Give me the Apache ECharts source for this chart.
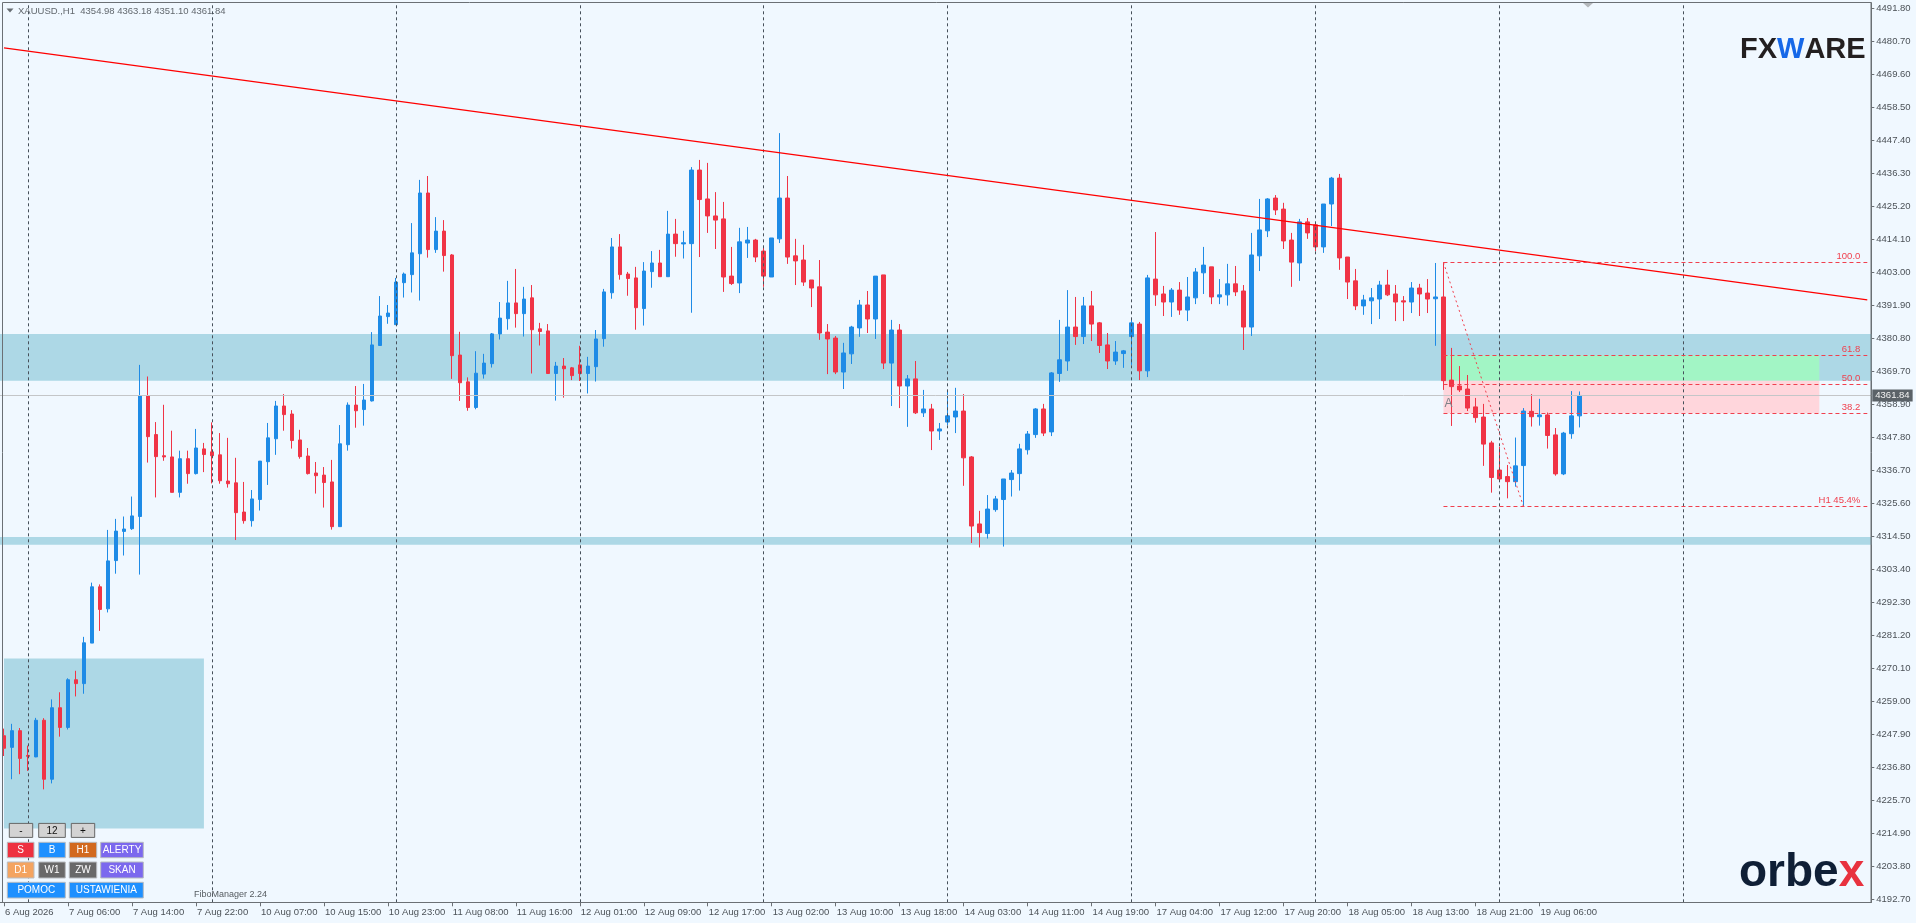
<!DOCTYPE html>
<html><head><meta charset="utf-8">
<style>html,body{margin:0;padding:0;background:#f0f8ff}#c{width:1916px;height:923px}</style>
<script src="https://cdn.jsdelivr.net/npm/echarts@6/dist/echarts.min.js"></script>
</head><body><div id="c"></div>
<script>
// ---------- data ----------
const timeLabels = ['6 Aug 2026','7 Aug 06:00','7 Aug 14:00','7 Aug 22:00','10 Aug 07:00','10 Aug 15:00','10 Aug 23:00','11 Aug 08:00','11 Aug 16:00','12 Aug 01:00','12 Aug 09:00','12 Aug 17:00','13 Aug 02:00','13 Aug 10:00','13 Aug 18:00','14 Aug 03:00','14 Aug 11:00','14 Aug 19:00','17 Aug 04:00','17 Aug 12:00','17 Aug 20:00','18 Aug 05:00','18 Aug 13:00','18 Aug 21:00','19 Aug 06:00'];
const priceLabels = ['4192.70','4203.80','4214.90','4225.70','4236.80','4247.90','4259.00','4270.10','4281.20','4292.30','4303.40','4314.50','4325.60','4336.70','4347.80','4358.90','4369.70','4380.80','4391.90','4403.00','4414.10','4425.20','4436.30','4447.40','4458.50','4469.60','4480.70','4491.80'];

const opens = [4247.6,4243.7,4249.3,4241.0,4240.5,4252.8,4233.0,4257.0,4250.4,4266.4,
4265.1,4278.7,4297.6,4290.2,4306.4,4316.2,4317.1,4321.2,4361.7,4348.7,
4341.6,4341.2,4329.3,4340.6,4335.6,4343.9,4342.9,4341.9,4333.1,4332.5,
4322.7,4319.8,4326.9,4339.6,4347.3,4358.3,4355.6,4346.9,4341.5,4335.8,
4335.1,4332.8,4317.8,4345.3,4358.6,4357.1,4360.0,4378.6,4388.3,4385.6,
4399.7,4402.4,4409.4,4429.8,4410.8,4417.0,4409.0,4375.4,4366.4,4357.8,
4369.0,4372.5,4382.5,4387.6,4392.9,4389.3,4394.6,4384.2,4383.5,4369.2,
4371.7,4371.1,4372.1,4369.2,4371.5,4380.9,4396.3,4411.7,4402.6,4401.3,
4391.0,4403.4,4406.3,4401.7,4416.0,4412.7,4412.8,4437.5,4427.8,4422.1,
4421.1,4401.9,4399.6,4413.0,4414.0,4410.3,4401.6,4414.4,4428.1,4408.7,
4407.3,4400.6,4398.3,4383.1,4381.1,4369.7,4375.8,4384.5,4392.2,4387.5,
4402.3,4372.7,4383.8,4365.0,4367.4,4356.0,4357.3,4349.9,4352.9,4354.6,
4356.6,4341.2,4318.7,4315.5,4323.5,4326.9,4333.6,4335.6,4343.6,4348.7,
4357.3,4349.6,4369.2,4373.4,4384.8,4381.6,4391.9,4386.2,4378.8,4373.4,
4375.9,4381.6,4385.8,4370.1,4400.9,4395.9,4393.2,4397.2,4390.5,4394.6,
4403.0,4405.0,4394.9,4395.6,4399.3,4396.9,4384.8,4408.7,4417.1,4428.1,
4424.4,4414.0,4406.3,4420.1,4419.1,4411.7,4426.1,4434.8,4408.3,4400.3,
4391.9,4393.6,4394.2,4398.9,4395.9,4393.6,4393.2,4397.9,4396.2,4394.3,
4394.9,4367.0,4365.0,4364.0,4358.0,4354.6,4345.9,4336.8,4334.6,4332.9,
4338.3,4356.5,4354.7,4355.3,4348.6,4335.5,4349.0,4354.98];
const closes = [4243.4,4249.3,4240.0,4240.7,4252.8,4233.0,4257.0,4250.4,4266.4,4265.1,
4278.8,4297.6,4290.0,4306.3,4316.3,4317.0,4321.4,4361.7,4348.0,4341.3,
4341.2,4329.3,4340.6,4335.6,4344.2,4342.0,4341.6,4333.2,4332.2,4322.5,
4319.8,4327.1,4339.8,4347.6,4358.3,4355.4,4346.7,4341.3,4335.6,4334.9,
4332.6,4317.8,4345.6,4358.6,4356.7,4360.3,4378.8,4388.5,4389.5,4399.9,
4402.6,4409.7,4429.8,4410.8,4417.0,4408.8,4375.2,4366.1,4357.8,4369.3,
4372.7,4382.5,4387.8,4392.9,4389.3,4394.2,4383.9,4383.3,4369.2,4371.7,
4370.8,4368.5,4369.2,4371.7,4380.8,4396.6,4411.7,4402.4,4401.1,4391.3,
4403.6,4406.3,4401.7,4416.0,4412.8,4413.1,4437.5,4427.6,4422.1,4420.7,
4401.6,4399.4,4413.4,4414.0,4408.3,4401.9,4414.7,4428.1,4408.3,4407.0,
4399.9,4397.9,4382.8,4380.8,4369.7,4376.1,4384.8,4392.2,4387.5,4401.9,
4372.7,4383.8,4365.0,4367.4,4356.0,4357.3,4349.9,4350.6,4355.0,4356.6,
4340.9,4318.0,4315.8,4323.7,4327.1,4333.8,4335.8,4343.9,4348.9,4357.3,
4349.2,4369.4,4373.8,4384.8,4381.6,4391.9,4385.8,4378.6,4373.4,4376.4,
4376.8,4386.2,4370.1,4401.3,4395.6,4393.2,4397.2,4390.5,4394.9,4403.3,
4405.6,4394.9,4395.6,4399.3,4396.6,4384.8,4409.0,4417.4,4427.8,4424.1,
4413.7,4406.6,4420.1,4416.4,4411.7,4426.1,4434.8,4408.0,4399.9,4391.9,
4393.9,4394.6,4398.9,4395.6,4393.2,4393.2,4397.9,4395.9,4394.2,4394.9,
4366.8,4364.8,4363.7,4357.6,4354.4,4345.5,4334.3,4333.8,4332.9,4338.2,
4356.6,4354.7,4355.3,4348.4,4335.5,4349.2,4354.98,4361.84];
const highs = [4250.0,4251.6,4250.2,4244.3,4253.6,4253.5,4259.8,4262.2,4266.9,4269.4,
4280.8,4299.0,4298.4,4316.7,4320.4,4321.2,4327.9,4372.1,4368.2,4352.9,
4358.7,4350.0,4343.3,4343.3,4350.6,4345.9,4352.8,4349.2,4347.6,4340.9,
4332.8,4330.1,4339.8,4352.6,4360.0,4362.3,4356.9,4350.3,4344.2,4339.5,
4337.8,4340.2,4351.9,4359.5,4365.0,4365.7,4383.1,4395.2,4392.2,4401.3,
4403.1,4419.7,4434.2,4435.5,4421.7,4420.7,4409.3,4383.2,4367.9,4376.7,
4375.8,4382.8,4393.2,4400.3,4404.3,4398.3,4398.9,4386.2,4385.8,4373.1,
4374.4,4371.4,4378.5,4374.8,4383.8,4397.6,4414.7,4416.0,4403.3,4405.0,
4406.6,4410.3,4410.7,4423.8,4421.1,4417.1,4438.5,4440.9,4439.9,4430.1,
4426.8,4411.7,4418.1,4418.4,4414.4,4411.7,4414.7,4449.9,4435.5,4414.4,
4412.4,4400.6,4407.3,4385.8,4381.8,4379.5,4385.2,4393.9,4396.9,4401.9,
4402.3,4387.2,4385.8,4368.7,4373.4,4363.7,4359.0,4352.6,4363.0,4364.4,
4362.3,4341.5,4323.1,4328.4,4328.1,4333.8,4336.8,4345.6,4349.9,4357.6,
4359.0,4369.7,4387.2,4397.2,4394.9,4394.9,4396.9,4386.5,4382.8,4380.1,
4377.1,4387.2,4386.5,4402.3,4416.7,4398.6,4397.9,4399.9,4401.6,4404.6,
4411.7,4405.0,4400.9,4406.0,4405.3,4398.9,4416.4,4427.8,4428.1,4429.1,
4426.5,4416.4,4421.1,4421.4,4419.7,4426.1,4435.2,4436.2,4408.3,4404.3,
4395.6,4397.9,4400.3,4404.0,4398.9,4395.2,4399.9,4399.3,4400.9,4406.3,
4406.5,4377.8,4371.7,4368.7,4361.0,4359.0,4346.6,4344.6,4338.5,4347.7,
4357.6,4362.3,4360.7,4356.1,4350.9,4349.6,4363.3,4363.18];
const lows = [4240.8,4233.0,4234.7,4235.8,4240.4,4229.6,4231.6,4247.3,4249.7,4260.8,
4261.7,4278.7,4282.8,4289.0,4302.0,4308.1,4316.7,4301.7,4339.3,4327.6,
4339.9,4329.3,4327.6,4332.2,4335.3,4336.1,4332.3,4332.2,4330.9,4313.3,
4318.8,4317.8,4323.2,4331.8,4341.9,4350.0,4344.0,4340.6,4335.3,4328.9,
4324.2,4316.8,4317.8,4343.3,4351.0,4351.7,4359.8,4378.6,4385.9,4385.6,
4394.7,4396.4,4393.7,4408.1,4409.7,4403.4,4367.4,4360.0,4356.7,4357.2,
4367.5,4371.2,4380.6,4383.9,4384.6,4381.6,4369.2,4378.6,4369.2,4360.1,
4361.1,4367.0,4366.7,4362.5,4366.5,4378.2,4394.3,4400.7,4395.3,4383.9,
4385.3,4398.0,4401.7,4401.7,4408.4,4407.8,4389.6,4408.3,4416.4,4411.0,
4396.6,4398.9,4396.2,4408.0,4406.6,4398.3,4401.6,4413.0,4406.0,4398.9,
4398.6,4391.5,4380.5,4369.0,4369.0,4364.0,4372.4,4381.5,4382.8,4380.8,
4370.7,4358.3,4357.6,4351.3,4355.6,4354.6,4343.5,4346.9,4351.9,4349.2,
4331.5,4312.3,4310.8,4313.8,4322.8,4311.1,4327.9,4329.9,4342.0,4347.6,
4348.2,4348.2,4366.4,4370.1,4378.8,4379.1,4380.1,4376.1,4370.7,4372.1,
4371.1,4372.1,4367.0,4368.0,4391.9,4388.5,4388.2,4388.9,4386.8,4392.5,
4395.9,4392.5,4392.5,4392.0,4395.2,4377.1,4381.8,4403.6,4415.0,4422.4,
4411.0,4398.3,4400.3,4414.4,4410.3,4409.7,4418.7,4404.0,4394.2,4390.5,
4388.9,4385.8,4387.5,4395.2,4386.8,4386.8,4389.5,4388.5,4389.5,4378.5,
4363.7,4351.6,4363.0,4356.6,4352.7,4338.2,4329.2,4333.4,4327.3,4331.2,
4324.6,4351.4,4351.7,4344.0,4334.9,4335.1,4347.3,4351.10];

const lastPrice = 4361.84;
const zoneUpper = [4382.47, 4366.79];
const zoneLower = [4314.33, 4311.74];
const zoneBox = [4273.5, 4216.5];
const zoneBoxEnd = 25;
const fibPrices = [4406.5, 4375.3, 4365.6, 4355.85, 4324.6];
const fibLabels = ['100.0', '61.8', '50.0', '38.2', 'H1 45.4%'];
const fibStart = 180, fibLow = 190, fibRectEnd = 227;
const trendPrices = [4478.5, 4393.95];
const gridIdx = [3, 26, 49, 72, 95, 118, 141, 164, 187, 210];

// ---------- layout helpers ----------
const slotCount = 234;
const tickStart = 4192.7, tickStep = 11.0778;
const tickVals = priceLabels.map((_, k) => tickStart + k * tickStep);
const categories = Array.from({length: slotCount}, (_, i) => (i % 8 === 0 && timeLabels[i / 8]) ? timeLabels[i / 8] : 'h' + i);
const candleData = opens.map((o, i) => [o, closes[i], lows[i], highs[i]]);
const lastIdx = slotCount - 1;
const FONT = '"Liberation Sans", Arial, sans-serif';
const RED = '#f03446', BLUE = '#1e8be6';

const showIdx = (i, v) => typeof v === 'string' ? !v.startsWith('h') : (i % 8 === 0 && i <= 192);

const fibLineData = fibPrices.map((p, k) => [
  {coord: [fibStart, p], label: {show: true, formatter: fibLabels[k], position: 'insideEndTop', color: '#f0404e', fontSize: 9.5, fontFamily: FONT, distance: [7, 1]}},
  {coord: [lastIdx, p]}
]);

// buttons (UI decoration)
const buttons = [
  ['-', 9.3, 32.7, 823.4, 837.4, '#d3d3d3', '#111'],
  ['12', 38.7, 65.3, 823.4, 837.4, '#d3d3d3', '#111'],
  ['+', 71.3, 94.7, 823.4, 837.4, '#d3d3d3', '#111'],
  ['S', 7.3, 34, 842.3, 857.7, '#ee3140', '#fff'],
  ['B', 38.7, 65.3, 842.3, 857.7, '#1e90ff', '#fff'],
  ['H1', 69.3, 96.7, 842.3, 857.7, '#d2691e', '#fff'],
  ['ALERTY', 100.7, 143.3, 842.3, 857.7, '#7b68ee', '#fff'],
  ['D1', 7.3, 34, 862, 878, '#f4a460', '#fff'],
  ['W1', 38.7, 65.3, 862, 878, '#696969', '#fff'],
  ['ZW', 69.3, 96.7, 862, 878, '#696969', '#fff'],
  ['SKAN', 100.7, 143.3, 862, 878, '#7b68ee', '#fff'],
  ['POMOC', 7.3, 65.3, 882.3, 898, '#1e90ff', '#fff'],
  ['USTAWIENIA', 69.3, 143.3, 882.3, 898, '#1e90ff', '#fff']
];
const graphics = [
  {type: 'rect', z: 100, shape: {x: 2.5, y: 2.5, width: 1868.5, height: 900}, style: {fill: 'none', stroke: '#6b7075', lineWidth: 1}, silent: true},
  {type: 'polygon', z: 100, shape: {points: [[6.5, 8.5], [13.5, 8.5], [10, 12.5]]}, style: {fill: '#666c72'}},
  {type: 'text', z: 100, x: 18, y: 11, style: {text: 'XAUUSD.,H1  4354.98 4363.18 4351.10 4361.84', fill: '#62686e', font: '9.5px ' + FONT, textVerticalAlign: 'middle', verticalAlign: 'middle'}},
  {type: 'polygon', z: 100, shape: {points: [[1583, 3], [1593, 3], [1588, 7.5]]}, style: {fill: '#b4b8bc'}},
  {type: 'text', z: 100, x: 1740, y: 50, style: {text: '{a|FX}{b|W}{a|ARE}', textVerticalAlign: 'middle', verticalAlign: 'middle',
    rich: {a: {fill: '#231f20', color: '#231f20', font: 'bold 29px ' + FONT, fontSize: 29, fontWeight: 'bold', fontFamily: FONT},
           b: {fill: '#1668e8', color: '#1668e8', font: 'bold 29px ' + FONT, fontSize: 29, fontWeight: 'bold', fontFamily: FONT}}}},
  {type: 'text', z: 100, x: 1739, y: 873, style: {text: '{a|orbe}{b|x}', textVerticalAlign: 'middle', verticalAlign: 'middle',
    rich: {a: {fill: '#0f1f36', color: '#0f1f36', fontSize: 46, fontWeight: 'bold', fontFamily: FONT},
           b: {fill: '#e8323f', color: '#e8323f', fontSize: 46, fontWeight: 'bold', fontFamily: FONT}}}},
  {type: 'text', z: 100, x: 194, y: 894.6, style: {text: 'FiboManager 2.24', fill: '#555b60', font: '9px ' + FONT, textVerticalAlign: 'middle', verticalAlign: 'middle'}}
];
buttons.forEach(b => {
  graphics.push({type: 'rect', z: 100, shape: {x: b[1], y: b[3], width: b[2] - b[1], height: b[4] - b[3]}, style: {fill: b[5], stroke: b[5] === '#d3d3d3' ? '#666' : '#b9bcc0', lineWidth: 1}});
  graphics.push({type: 'text', z: 101, x: (b[1] + b[2]) / 2, y: (b[3] + b[4]) / 2 + 0.5, style: {text: b[0], fill: b[6], font: '10px ' + FONT, textAlign: 'center', align: 'center', textVerticalAlign: 'middle', verticalAlign: 'middle'}});
});

const chart = echarts.init(document.getElementById('c'), null, {renderer: 'canvas'});
chart.setOption({
  animation: false,
  backgroundColor: '#f0f8ff',
  grid: {left: -0.7, right: 44.7, top: 2.7, bottom: 20.7, containLabel: false},
  xAxis: {
    type: 'category', data: categories, boundaryGap: true,
    axisLine: {show: true, lineStyle: {color: '#6b7075', width: 1}},
    axisTick: {show: true, alignWithLabel: true, interval: showIdx, length: 4, lineStyle: {color: '#6b7075'}},
    axisLabel: {show: true, interval: showIdx, formatter: v => v.startsWith('h') ? '' : v, align: 'left', margin: 5, fontSize: 9.5, fontFamily: FONT, color: '#4b5157', padding: [0, 0, 0, 1]},
    splitLine: {show: false}
  },
  yAxis: {
    type: 'value', position: 'right', min: 4191.69, max: 4493.68, interval: 11.0918,
    axisLine: {show: true, lineStyle: {color: '#6b7075', width: 1}},
    axisTick: {show: true, length: 3, customValues: tickVals, lineStyle: {color: '#6b7075'}},
    axisLabel: {show: true, customValues: tickVals, margin: 5, fontSize: 9.5, fontFamily: FONT, color: '#4b5157',
      formatter: v => priceLabels[Math.round((v - tickStart) / tickStep)] || ''},
    splitLine: {show: false}
  },
  graphic: graphics,
  series: [
    {
      name: 'zones', type: 'line', data: [], z: 1, silent: true,
      markArea: {silent: true, itemStyle: {color: '#add8e6'}, data: [
        [{yAxis: zoneUpper[0]}, {yAxis: zoneUpper[1]}],
        [{yAxis: zoneLower[0]}, {yAxis: zoneLower[1]}],
        [{coord: [0, zoneBox[0]]}, {coord: [zoneBoxEnd, zoneBox[1]]}]
      ]}
    },
    {
      name: 'fiboZones', type: 'line', data: [], z: 2, silent: true,
      markArea: {silent: true, data: [
        [{coord: [fibStart, fibPrices[1]], itemStyle: {color: '#a2f5c5'}}, {coord: [fibRectEnd, zoneUpper[1]]}],
        [{coord: [fibStart, zoneUpper[1]], itemStyle: {color: '#ffd6dc'}}, {coord: [fibRectEnd, fibPrices[3]]}]
      ]}
    },
    {
      name: 'gridLines', type: 'line', data: [], z: 2.5, silent: true,
      markLine: {silent: true, symbol: ['none', 'none'], label: {show: false},
        lineStyle: {color: '#46505a', type: [3, 3], width: 1},
        data: gridIdx.map(i => ({xAxis: i})).concat([
          {yAxis: lastPrice, lineStyle: {color: '#c4c6c8', type: 'solid', width: 1},
           label: {show: true, position: 'end', formatter: '4361.84', distance: 1, backgroundColor: '#5b6268', color: '#f2f2f2', padding: [1, 3, 1, 3], fontSize: 9.5, fontFamily: FONT}}
        ])}
    },
    {
      name: 'XAUUSD', type: 'candlestick', z: 3, barWidth: 4, silent: true,
      data: candleData,
      itemStyle: {color: BLUE, color0: RED, borderColor: BLUE, borderColor0: RED, borderWidth: 1}
    },
    {
      name: 'objects', type: 'line', data: [], z: 4, silent: true,
      markLine: {silent: true, symbol: ['none', 'none'], label: {show: false},
        lineStyle: {color: '#f0404e', type: [4, 3], width: 1},
        data: [
          [{coord: [0, trendPrices[0]], lineStyle: {color: '#ff0000', type: 'solid', width: 1.2}}, {coord: [lastIdx, trendPrices[1]]}],
          [{coord: [fibStart, fibPrices[0]], lineStyle: {color: '#f0404e', type: [2, 3], width: 1}}, {coord: [fibLow, fibPrices[4]]}]
        ].concat(fibLineData)},
      markPoint: {silent: true, symbol: 'circle', symbolSize: 1, itemStyle: {color: 'rgba(0,0,0,0)'},
        data: [{coord: [fibStart, 4359.1], label: {show: true, formatter: 'A', position: 'inside', offset: [5, 0], color: '#7d8288', fontSize: 12, fontFamily: FONT}}]}
    }
  ]
});
</script>
</body></html>
